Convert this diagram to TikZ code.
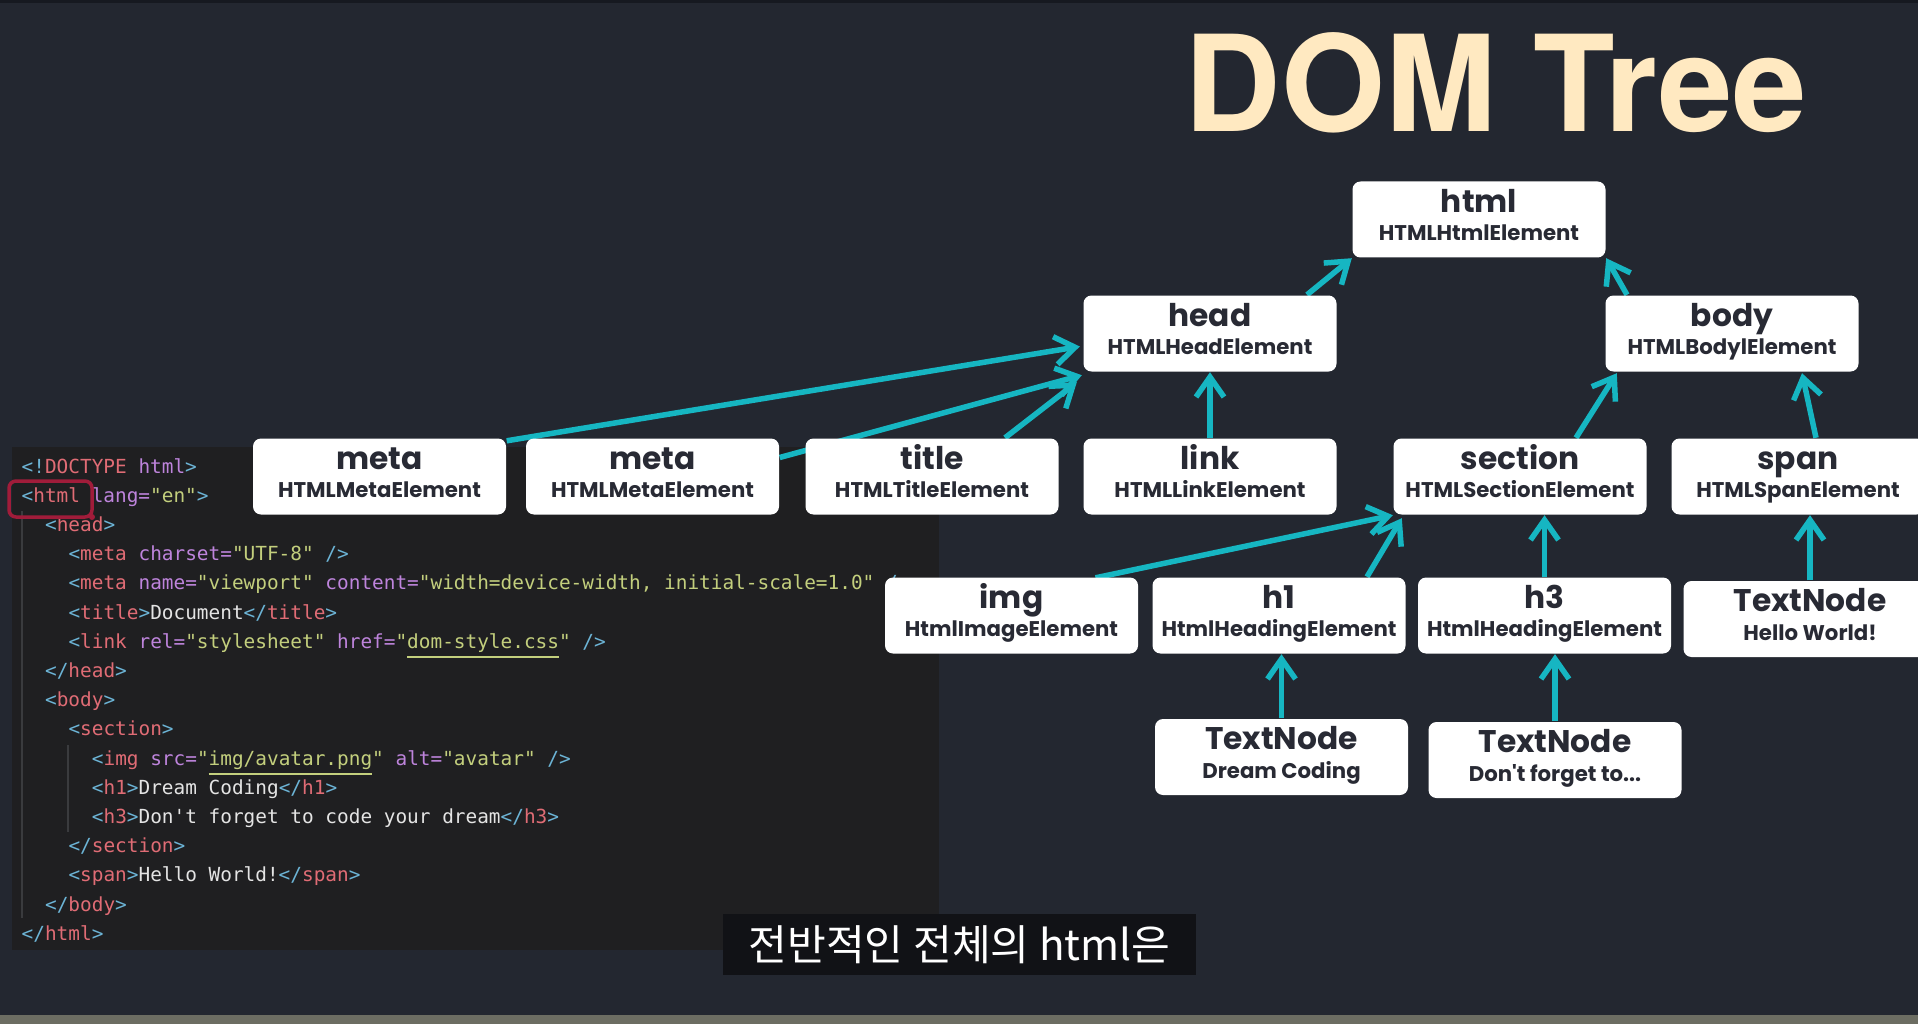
\documentclass[tikz,border=0pt]{standalone}
\usepackage{fontspec}
\setmonofont{DejaVu Sans Mono}
\newfontfamily\boxfont{Poppins}
\newfontfamily\headingfont{TeX Gyre Heros}
\newfontfamily\krfont{Noto Sans CJK KR}
\usetikzlibrary{arrows.meta,calc,backgrounds}
\pgfdeclarelayer{wires}
\pgfsetlayers{background,wires,main}
\definecolor{slide}{RGB}{35,39,48}
\definecolor{slidetop}{RGB}{22,25,32}
\definecolor{strip}{RGB}{108,109,98}
\definecolor{editor}{RGB}{31,31,33}
\definecolor{guide}{RGB}{58,59,62}
\definecolor{cream}{RGB}{255,233,193}
\definecolor{wire}{RGB}{22,182,194}
\definecolor{boxtext}{RGB}{40,42,52}
\definecolor{cbr}{RGB}{108,180,214}
\definecolor{ctag}{RGB}{224,108,117}
\definecolor{catt}{RGB}{190,132,220}
\definecolor{cstr}{RGB}{195,207,125}
\definecolor{ctxt}{RGB}{228,228,228}
\definecolor{marker}{RGB}{160,28,58}
\definecolor{subbg}{RGB}{17,18,22}
% code colouring
\newcommand{\cB}[1]{\textcolor{cbr}{#1}}
\newcommand{\cT}[1]{\textcolor{ctag}{#1}}
\newcommand{\cA}[1]{\textcolor{catt}{#1}}
\newcommand{\cS}[1]{\textcolor{cstr}{#1}}
\newcommand{\cU}[1]{\textcolor{cstr}{"\underline{#1}"}}
% element box text: tag name over interface name, fixed baselines
\newcommand{\elem}[2]{\vbox{\lineskiplimit=-10pt\baselineskip=8.22pt
  \halign{\hfil##\hfil\cr
    {\fontsize{8.9}{8.22}\selectfont\rule{0pt}{2.6mm}#1}\cr
    #2\rule[-1.2mm]{0pt}{1.2mm}\cr}}}

\begin{document}
\begin{tikzpicture}[
  x=0.1mm, y=-0.1mm,
  elem/.style={fill=white, rounded corners=0.8mm, minimum width=25.3mm, minimum height=7.6mm, inner sep=0pt, text=boxtext,
    font=\boxfont\bfseries\fontsize{6.05}{8.22}\selectfont},
  code/.style={anchor=base west, inner sep=0pt, text=ctxt, font=\ttfamily\fontsize{5.52}{7}\selectfont},
  arr/.style={-{Straight Barb[length=2mm,width=2.8mm]}, line width=0.55mm, wire},
  ]
\useasboundingbox (0,0) rectangle (1918,1024);
\begin{scope}[on background layer]
\fill[slide] (0,0) rectangle (1918,1024);
\fill[slidetop] (0,0) rectangle (1918,3);
\fill[strip] (0,1015) rectangle (1918,1024);
% editor with the source
\fill[editor] (12,447) rectangle (939,950);
\draw[guide, line width=0.15mm] (22,511) -- (22,918);
\draw[guide, line width=0.15mm] (68,745) -- (68,832);
\node[code] (c0)  at (21,473)    {\cB{<!}\cT{DOCTYPE} \cA{html}\cB{>}};
\node[code] (c1)  at (21,502.2)  {\cB{<}\cT{html} \cA{lang=}\cS{"en"}\cB{>}};
\node[code] (c2)  at (44.4,531.4) {\cB{<}\cT{head}\cB{>}};
\node[code] (c3)  at (67.8,560.6) {\cB{<}\cT{meta} \cA{charset=}\cS{"UTF-8"} \cB{/>}};
\node[code] (c4)  at (67.8,589.8) {\cB{<}\cT{meta} \cA{name=}\cS{"viewport"} \cA{content=}\cS{"width=device-width, initial-scale=1.0"} \cB{/>}};
\node[code] (c5)  at (67.8,619)  {\cB{<}\cT{title}\cB{>}Document\cB{</}\cT{title}\cB{>}};
\node[code] (c6)  at (67.8,648.2) {\cB{<}\cT{link} \cA{rel=}\cS{"stylesheet"} \cA{href=}\cU{dom-style.css} \cB{/>}};
\node[code] (c7)  at (44.4,677.4) {\cB{</}\cT{head}\cB{>}};
\node[code] (c8)  at (44.4,706.6) {\cB{<}\cT{body}\cB{>}};
\node[code] (c9)  at (67.8,735.8) {\cB{<}\cT{section}\cB{>}};
\node[code] (c10) at (91.2,765)  {\cB{<}\cT{img} \cA{src=}\cU{img/avatar.png} \cA{alt=}\cS{"avatar"} \cB{/>}};
\node[code] (c11) at (91.2,794.2) {\cB{<}\cT{h1}\cB{>}Dream Coding\cB{</}\cT{h1}\cB{>}};
\node[code] (c12) at (91.2,823.4) {\cB{<}\cT{h3}\cB{>}Don't forget to code your dream\cB{</}\cT{h3}\cB{>}};
\node[code] (c13) at (67.8,852.6) {\cB{</}\cT{section}\cB{>}};
\node[code] (c14) at (67.8,881.8) {\cB{<}\cT{span}\cB{>}Hello World!\cB{</}\cT{span}\cB{>}};
\node[code] (c15) at (44.4,911)  {\cB{</}\cT{body}\cB{>}};
\node[code] (c16) at (21,940.2)  {\cB{</}\cT{html}\cB{>}};
\draw[marker, line width=0.35mm, rounded corners=0.7mm] (9,481) rectangle (92,517);
\fill[marker] (92,517) circle (3);
\end{scope}
% heading and caption
\node[anchor=base west, inner sep=0pt, text=cream, font=\headingfont\bfseries\fontsize{38}{38}\selectfont] (heading) at (1184,132) {DOM Tree};
\node[fill=subbg, minimum width=47.3mm, minimum height=6.1mm, inner sep=0pt, text=white, font=\krfont\fontsize{12}{12}\selectfont] (caption) at (959.5,944.5) {전반적인 전체의 html은};
% tree: root and head/body
\node[elem] (html) at (1479,219.5) {\elem{html}{HTMLHtmlElement}};
\node[elem] (head) at (1210,333.5) {\elem{head}{HTMLHeadElement}};
\node[elem] (body) at (1732,333.5) {\elem{body}{HTMLBodylElement}};
% children of head and body
\node[elem] (meta1)   at (379.5,476.5) {\elem{meta}{HTMLMetaElement}};
\node[elem] (meta2)   at (652.5,476.5) {\elem{meta}{HTMLMetaElement}};
\node[elem] (titl)    at (932,476.5)   {\elem{title}{HTMLTitleElement}};
\node[elem] (link)    at (1210,476.5)  {\elem{link}{HTMLLinkElement}};
\node[elem] (section) at (1520,476.5)  {\elem{section}{HTMLSectionElement}};
\node[elem] (span)    at (1798,476.5)  {\elem{span}{HTMLSpanElement}};
% children of section and span
\node[elem] (img)    at (1011.5,615.5) {\elem{img}{HtmlImageElement}};
\node[elem] (hone)   at (1279,615.5)   {\elem{h1}{HtmlHeadingElement}};
\node[elem] (hthree) at (1544.5,615.5) {\elem{h3}{HtmlHeadingElement}};
\node[elem] (hello)  at (1810,619)     {\elem{TextNode}{Hello World!}};
% text nodes
\node[elem] (dream) at (1281.5,757) {\elem{TextNode}{Dream Coding}};
\node[elem] (dont)  at (1555,760)   {\elem{TextNode}{Don\textquotesingle t forget to...}};
% arrows, child to parent
\begin{pgfonlayer}{wires}
\draw[arr] ($(meta1.north east)+(0,3)$) -- ($(head.west)+(-3,13)$);
\draw[arr] ($(meta2.east)+(0,-19)$) -- ($(head.south west)+(-1,3)$);
\draw[arr] ($(titl.north)+(73,0)$) -- ($(head.south west)+(-6,10)$);
\draw[arr] (link.north) -- (head.south);
\draw[arr] ($(head.north)+(97,0)$) -- (html.south west);
\draw[arr] ($(body.north)+(-105,0)$) -- (html.south east);
\draw[arr] ($(section.north)+(56,0)$) -- ($(body.south west)+(12,1)$);
\draw[arr] ($(span.north)+(18,0)$) -- ($(body.south)+(70,1)$);
\draw[arr] ($(img.north)+(84,1)$) -- (section.south west);
\draw[arr] ($(hone.north)+(88,0)$) -- ($(section.south west)+(9,3)$);
\draw[arr] (hthree.north) -- (hthree.north |- section.south);
\draw[arr] (hello.north) -- (hello.north |- span.south);
\draw[arr] (dream.north) -- (dream.north |- hone.south);
\draw[arr] (dont.north) -- (dont.north |- hthree.south);
\end{pgfonlayer}
\end{tikzpicture}
\end{document}
